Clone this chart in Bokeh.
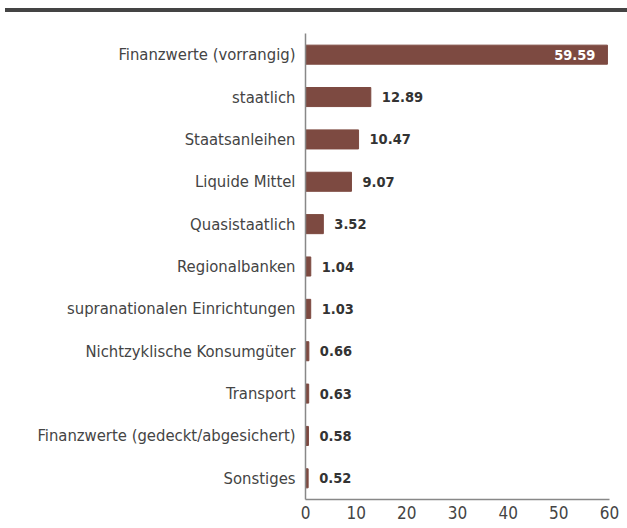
from bokeh.plotting import figure
from bokeh.models import ColumnDataSource, FixedTicker, Div
from bokeh.layouts import column
from bokeh.core.properties import value
from bokeh.embed import file_html
from bokeh.resources import INLINE

categories = [
    "Finanzwerte (vorrangig)",
    "staatlich",
    "Staatsanleihen",
    "Liquide Mittel",
    "Quasistaatlich",
    "Regionalbanken",
    "supranationalen Einrichtungen",
    "Nichtzyklische Konsumgüter",
    "Transport",
    "Finanzwerte (gedeckt/abgesichert)",
    "Sonstiges",
]
values = [59.59, 12.89, 10.47, 9.07, 3.52, 1.04, 1.03, 0.66, 0.63, 0.58, 0.52]
x_ticks = [0, 10, 20, 30, 40, 50, 60]

FONT = "'DejaVu Sans Condensed', 'Roboto Condensed', 'Liberation Sans Narrow', Roboto"
BAR = "#7d4a41"

labels = [f"{v:.2f}" for v in values]
src = ColumnDataSource(dict(cat=categories, val=values, lab=labels))
inside = ColumnDataSource(dict(cat=categories[:1], val=values[:1], lab=labels[:1]))
outside = ColumnDataSource(dict(cat=categories[1:], val=values[1:], lab=labels[1:]))

# decorative header rule
top = Div(
    text='<div style="padding-top:8px">'
         '<div style="height:4px;background:#444444;width:622px;margin-left:5px"></div></div>',
    width=627, height=20, margin=0,
)

p = figure(
    y_range=list(reversed(categories)),
    x_range=(0, 60),
    width=627,
    height=508,
    output_backend="svg",
    toolbar_location=None,
    min_border_left=305,
    min_border_right=18,
    min_border_top=13,
    min_border_bottom=29,
    margin=0,
)
p.hbar(y="cat", right="val", left=0, height=0.45, source=src, color=BAR)
p.text(x="val", y="cat", text="lab", source=inside, text_align="right",
       text_baseline="middle", x_offset=-12, text_color="white",
       text_font=value(FONT), text_font_style="bold", text_font_size="14.5px")
p.text(x="val", y="cat", text="lab", source=outside, text_align="left",
       text_baseline="middle", x_offset=11, text_color="#333333",
       text_font=value(FONT), text_font_style="bold", text_font_size="14.5px")

p.xgrid.visible = False
p.ygrid.visible = False
p.outline_line_color = None
p.xaxis.ticker = FixedTicker(ticks=x_ticks)
for ax in (p.xaxis[0], p.yaxis[0]):
    ax.axis_line_color = "#888888"
    ax.axis_line_width = 1.5
    ax.major_tick_line_color = None
    ax.minor_tick_line_color = None
    ax.major_tick_out = 0
    ax.major_tick_in = 0
    ax.minor_tick_out = 0
    ax.major_label_text_font = FONT
    ax.major_label_text_color = "#444444"
p.yaxis.major_label_text_font_size = "16.5px"
p.xaxis.major_label_text_font_size = "17px"
p.yaxis.major_label_standoff = 10
p.xaxis.major_label_standoff = 6

layout = column(top, p, spacing=0, margin=0)
open("out.html", "w").write(file_html(layout, INLINE))
